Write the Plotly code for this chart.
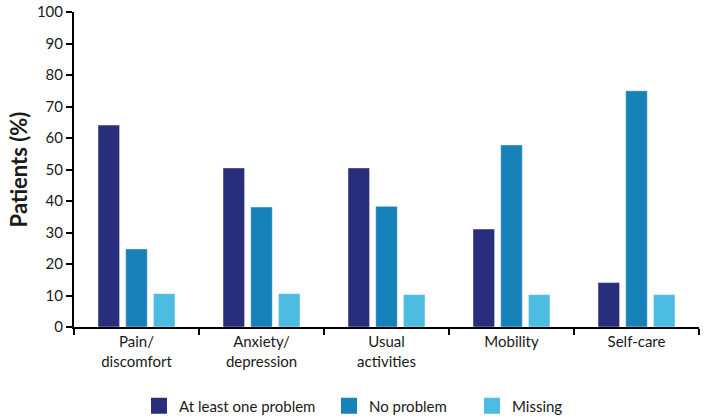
import plotly.graph_objects as go

categories = ["Pain/<br>discomfort", "Anxiety/<br>depression", "Usual<br>activities", "Mobility", "Self-care"]
at_least_one = [64.1, 50.5, 50.5, 31.1, 14.1]
no_problem = [24.8, 38.1, 38.3, 57.8, 75.0]
missing = [10.6, 10.6, 10.3, 10.3, 10.3]
series_names = ["At least one problem", "No problem", "Missing"]
colors = ["#282D7C", "#1781BA", "#4DBCE1"]

font = "Lato, 'Open Sans', sans-serif"
L, R, T, B = 74, 10, 12, 92
W, H = 709, 419
pw = W - L - R
ph = H - T - B

# legend symbol centers (px)
legend_px = [159, 349, 492]
legend_y_px = 406

fig = go.Figure()
legend_ids = ["legend", "legend2", "legend3"]
for name, vals, col, lid in zip(series_names, [at_least_one, no_problem, missing], colors, legend_ids):
    fig.add_trace(go.Bar(x=categories, y=vals, name=name, showlegend=False,
                         marker=dict(color=col, line=dict(color="rgba(255,255,255,0.45)", width=1))))
    fig.add_trace(go.Scatter(x=[None], y=[None], mode="markers", name=name, legend=lid,
                             marker=dict(symbol="square", size=17, color=col)))

legend_common = dict(orientation="h", xanchor="left", yanchor="middle", font=dict(size=15, family=font, color="#1a1a1a"),
                     itemwidth=30, bgcolor="rgba(0,0,0,0)")
layout_legends = {}
for lid, px in zip(legend_ids, legend_px):
    layout_legends[lid] = dict(legend_common, x=(px - 20 - L) / pw, y=(H - B - legend_y_px) / ph)

fig.update_layout(
    width=W, height=H,
    margin=dict(l=L, r=R, t=T, b=B, autoexpand=False),
    plot_bgcolor="white", paper_bgcolor="white",
    barmode="group", bargap=0.335, bargroupgap=0.22,
    font=dict(family=font, size=15, color="#1a1a1a"),
    showlegend=True,
    xaxis=dict(showline=True, linecolor="black", linewidth=2, ticks="outside", tickson="boundaries",
               ticklen=6, tickwidth=2, tickcolor="black", showgrid=False, tickfont=dict(size=15)),
    yaxis=dict(range=[0, 100], dtick=10, showline=True, linecolor="black", linewidth=2, ticks="outside",
               ticklen=6, tickwidth=2, tickcolor="black", showgrid=False, zeroline=False,
               title=dict(text="<b>Patients (%)</b>", font=dict(size=22), standoff=3), tickfont=dict(size=15)),
    **layout_legends,
)
fig.write_html("out.html", config={"displayModeBar": False},
               post_script="document.body.style.margin='0';")
